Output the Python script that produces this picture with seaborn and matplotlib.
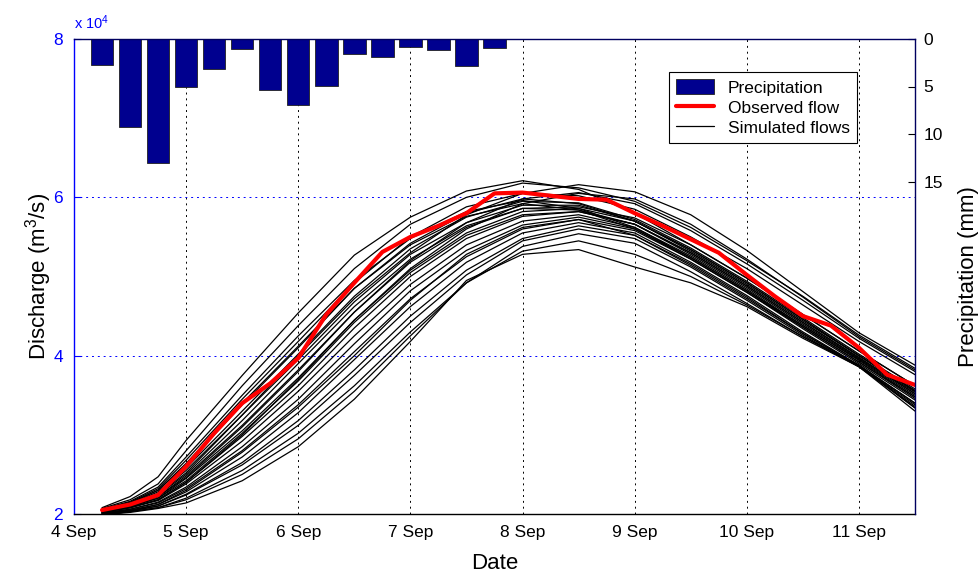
import matplotlib
matplotlib.use("Agg")
import matplotlib.pyplot as plt
import seaborn as sns
import pandas as pd

# -----------------------------
# Data (discharge in units of 10^4 m3/s, days of September)
# -----------------------------
rain_days = [4.25, 4.5, 4.75, 5.0, 5.25, 5.5, 5.75, 6.0, 6.25, 6.5, 6.75, 7.0, 7.25, 7.5, 7.75]
rain_mm = [2.7, 9.3, 13.0, 5.0, 3.2, 1.0, 5.4, 6.9, 4.9, 1.6, 1.9, 0.8, 1.2, 2.8, 0.9]

obs_days = [4.25, 4.5, 4.75, 5.0, 5.25, 5.5, 5.75, 6.0, 6.25, 6.5,
            6.75, 7.0, 7.25, 7.5, 7.75, 8.0, 8.25, 8.5, 8.75, 9.0,
            9.25, 9.5, 9.75, 10.0, 10.25, 10.5, 10.75, 11.0, 11.25, 11.5]
obs_flow = [2.05, 2.12, 2.24, 2.60, 3.02, 3.40, 3.65, 3.97, 4.52, 4.92,
            5.31, 5.50, 5.64, 5.80, 6.05, 6.06, 6.02, 5.98, 5.97, 5.80,
            5.64, 5.47, 5.30, 5.02, 4.75, 4.50, 4.38, 4.10, 3.76, 3.63]

sim_days = [4.25, 4.5, 4.75, 5.0, 5.5, 6.0, 6.5, 7.0, 7.5, 8.0, 8.5, 9.0, 9.5, 10.0, 10.5, 11.0, 11.5]
sim_runs = [
    [2.08, 2.22, 2.47, 2.93, 3.75, 4.54, 5.27, 5.75, 6.08, 6.21, 6.10, 5.80, 5.40, 4.98, 4.52, 4.06, 3.62],
    [2.07, 2.18, 2.38, 2.80, 3.62, 4.38, 5.10, 5.66, 6.00, 6.18, 6.12, 5.95, 5.62, 5.20, 4.75, 4.26, 3.84],
    [2.04, 2.12, 2.25, 2.52, 3.25, 4.00, 4.72, 5.30, 5.78, 6.05, 6.16, 6.07, 5.78, 5.33, 4.81, 4.29, 3.88],
    [2.06, 2.15, 2.32, 2.68, 3.45, 4.18, 4.92, 5.50, 5.88, 6.05, 6.02, 5.85, 5.50, 5.10, 4.64, 4.18, 3.76],
    [2.05, 2.14, 2.30, 2.62, 3.38, 4.10, 4.85, 5.42, 5.80, 5.98, 5.92, 5.70, 5.32, 4.90, 4.44, 4.00, 3.56],
    [2.05, 2.13, 2.28, 2.58, 3.30, 4.02, 4.75, 5.35, 5.75, 5.95, 5.93, 5.72, 5.36, 4.94, 4.48, 4.02, 3.58],
    [2.04, 2.12, 2.26, 2.55, 3.25, 3.95, 4.68, 5.28, 5.68, 5.90, 5.90, 5.70, 5.34, 4.92, 4.46, 4.00, 3.55],
    [2.06, 2.16, 2.34, 2.72, 3.50, 4.25, 4.95, 5.48, 5.82, 5.96, 5.86, 5.62, 5.24, 4.82, 4.38, 3.95, 3.50],
    [2.03, 2.10, 2.22, 2.48, 3.12, 3.82, 4.55, 5.18, 5.62, 5.86, 5.88, 5.74, 5.40, 4.98, 4.52, 4.06, 3.62],
    [2.03, 2.10, 2.20, 2.45, 3.05, 3.72, 4.45, 5.08, 5.55, 5.82, 5.86, 5.70, 5.34, 4.92, 4.46, 4.00, 3.56],
    [2.02, 2.08, 2.18, 2.40, 2.98, 3.62, 4.35, 5.00, 5.48, 5.76, 5.82, 5.66, 5.30, 4.88, 4.42, 3.98, 3.52],
    [2.02, 2.08, 2.17, 2.38, 2.92, 3.55, 4.25, 4.90, 5.40, 5.70, 5.78, 5.62, 5.26, 4.84, 4.38, 3.94, 3.48],
    [2.01, 2.06, 2.15, 2.34, 2.85, 3.45, 4.15, 4.82, 5.33, 5.65, 5.75, 5.60, 5.24, 4.82, 4.36, 3.92, 3.46],
    [2.01, 2.06, 2.14, 2.32, 2.80, 3.38, 4.05, 4.72, 5.25, 5.60, 5.72, 5.58, 5.22, 4.80, 4.34, 3.90, 3.44],
    [2.00, 2.05, 2.12, 2.28, 2.72, 3.28, 3.95, 4.62, 5.18, 5.55, 5.68, 5.55, 5.18, 4.76, 4.30, 3.88, 3.40],
    [2.00, 2.04, 2.10, 2.25, 2.65, 3.18, 3.82, 4.50, 5.08, 5.48, 5.64, 5.52, 5.16, 4.74, 4.28, 3.87, 3.38],
    [2.00, 2.04, 2.10, 2.24, 2.62, 3.12, 3.75, 4.42, 5.02, 5.45, 5.60, 5.48, 5.12, 4.70, 4.26, 3.86, 3.36],
    [1.99, 2.03, 2.08, 2.20, 2.55, 3.02, 3.62, 4.30, 4.92, 5.38, 5.54, 5.42, 5.06, 4.66, 4.24, 3.86, 3.34],
    [1.99, 2.02, 2.07, 2.14, 2.42, 2.85, 3.45, 4.18, 4.95, 5.28, 5.34, 5.12, 4.92, 4.62, 4.22, 3.86, 3.30],
    [1.99, 2.03, 2.08, 2.18, 2.50, 2.95, 3.55, 4.25, 4.92, 5.32, 5.45, 5.28, 5.00, 4.64, 4.24, 3.88, 3.34],
    [2.00, 2.04, 2.12, 2.30, 2.78, 3.35, 4.00, 4.70, 5.28, 5.62, 5.72, 5.52, 5.14, 4.72, 4.28, 3.88, 3.40],
    [2.05, 2.14, 2.30, 2.64, 3.40, 4.12, 4.85, 5.40, 5.76, 5.92, 5.84, 5.60, 5.22, 4.80, 4.36, 3.92, 3.48],
    [2.04, 2.11, 2.24, 2.50, 3.18, 3.90, 4.62, 5.22, 5.64, 5.86, 5.84, 5.66, 5.28, 4.86, 4.40, 3.96, 3.52],
    [2.03, 2.09, 2.20, 2.42, 3.02, 3.68, 4.42, 5.05, 5.52, 5.78, 5.82, 5.66, 5.30, 4.88, 4.42, 3.97, 3.54],
    [2.02, 2.08, 2.18, 2.40, 3.00, 3.70, 4.45, 5.10, 5.60, 5.92, 6.05, 5.98, 5.66, 5.22, 4.74, 4.24, 3.82],
    [2.03, 2.10, 2.22, 2.46, 3.10, 3.80, 4.55, 5.20, 5.68, 5.98, 6.06, 5.92, 5.58, 5.16, 4.70, 4.22, 3.80],
]

tick_days = [4, 5, 6, 7, 8, 9, 10, 11]
tick_labels = [f"{d} Sep" for d in tick_days]
legend_labels = ["Precipitation", "Observed flow", "Simulated flows"]

sim_df = pd.DataFrame({
    "day": [d for run in sim_runs for d in sim_days],
    "flow": [v for run in sim_runs for v in run],
    "run": [i for i, run in enumerate(sim_runs) for _ in sim_days],
})

# -----------------------------
# Visualization
# -----------------------------
sns.set_style("white")
plt.rcParams["font.family"] = ["Liberation Sans", "DejaVu Sans"]
plt.rcParams["mathtext.fontset"] = "custom"
plt.rcParams["mathtext.rm"] = "Liberation Sans"
plt.rcParams["mathtext.it"] = "Liberation Sans:italic"
plt.rcParams["text.color"] = "black"
plt.rcParams["axes.labelcolor"] = "black"

fig = plt.figure(figsize=(9.8, 5.73), dpi=100)
ax1 = fig.add_axes([74 / 980, 59 / 573, 841 / 980, 475 / 573])
ax2 = ax1.twinx()

sns.lineplot(data=sim_df, x="day", y="flow", units="run", estimator=None,
             color="black", linewidth=0.9, legend=False, ax=ax1)
sns.lineplot(x=obs_days, y=obs_flow, color="red", linewidth=3.0, ax=ax1)
sns.barplot(x=rain_days, y=rain_mm, native_scale=True, color="#00008F",
            saturation=1, edgecolor="#202020", linewidth=0.6, width=0.8,
            errorbar=None, ax=ax2)

ax1.set_xlim(4, 11.5)
ax1.set_ylim(2, 8)
ax1.set_xticks(tick_days)
ax1.set_xticklabels(tick_labels)
ax1.set_yticks([2, 4, 6, 8])
ax1.set_yticklabels(["2", "4", "6", "8"])
ax2.set_ylim(50, 0)
ax2.set_yticks([0, 5, 10, 15])

dots = (0, (2, 4))
ax1.grid(True, axis="x", color="black", linestyle=dots, linewidth=0.7)
ax1.grid(True, axis="y", color="blue", linestyle=dots, linewidth=0.7)
ax2.grid(False)

for s in ["top", "right"]:
    ax1.spines[s].set_visible(False)
for s in ["left", "bottom"]:
    ax2.spines[s].set_visible(False)
ax1.spines["left"].set_color("blue")
ax1.spines["bottom"].set_color("black")
ax2.spines["top"].set_color("#000060")
ax2.spines["right"].set_color("#000060")
for sp in list(ax1.spines.values()) + list(ax2.spines.values()):
    sp.set_linewidth(1.0)

ax1.tick_params(axis="y", direction="in", colors="blue", length=5, width=0.8,
                labelsize=12.5, pad=8)
ax1.tick_params(axis="x", direction="in", colors="black", length=5, width=0.8,
                labelsize=12.5, pad=8)
ax2.tick_params(axis="y", direction="in", colors="black", length=5, width=0.8,
                labelsize=12.5, pad=6)

ax1.set_xlabel("Date", fontsize=16, color="black")
ax1.set_ylabel("Discharge (m$^3$/s)", fontsize=16, color="black")
ax2.set_ylabel("Precipitation (mm)", fontsize=16, color="black")
ax1.xaxis.set_label_coords(0.5, -0.083)
ax1.yaxis.set_label_coords(-0.024, 0.5)
ax2.yaxis.set_label_coords(1.051, 0.5)

ax1.text(0, 1.02, "x 10$^4$", transform=ax1.transAxes, color="blue",
         fontsize=10.5, ha="left", va="baseline")

handles = [ax2.patches[0], ax1.lines[-1], ax1.lines[0]]
leg = ax2.legend(handles, legend_labels, loc="upper right",
                 bbox_to_anchor=(0.931, 0.9305), frameon=True, fancybox=False,
                 edgecolor="black", framealpha=1, fontsize=12.5,
                 handlelength=2.2, handleheight=1.0, labelspacing=0.2,
                 handletextpad=0.8, borderpad=0.4, borderaxespad=0)
leg.get_frame().set_linewidth(0.8)
for t in leg.get_texts():
    t.set_color("black")

fig.savefig("out.png", dpi=100)
plt.close(fig)
